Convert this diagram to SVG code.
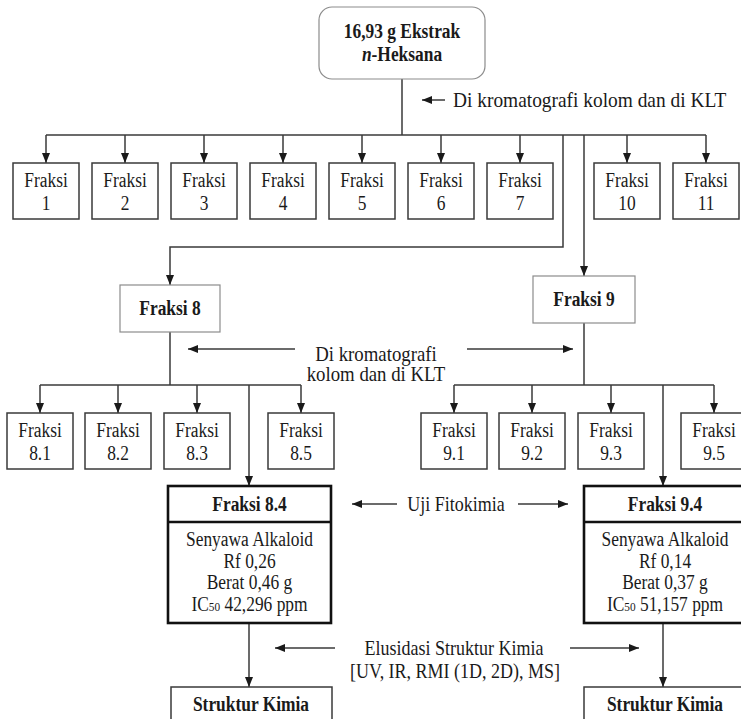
<svg xmlns="http://www.w3.org/2000/svg" width="741" height="719" viewBox="0 0 741 719">
<defs>
<marker id="ah" markerUnits="userSpaceOnUse" markerWidth="10" markerHeight="8" refX="10" refY="4" orient="auto">
<path d="M0,0 L10,4 L0,8 z" fill="#1a1a1a"/>
</marker>
<style>
text { font-family: "Liberation Serif", "Times New Roman", serif; font-size: 20px; fill: #1a1a1a; text-anchor: middle; }
.b { font-weight: bold; }
.lbl { text-anchor: start; }
.box { fill: #fff; stroke: #3a3a3a; stroke-width: 1.5; }
.lt { fill: #fff; stroke: #8c8c8c; stroke-width: 1.2; }
.thick { fill: #fff; stroke: #111; stroke-width: 2.6; }
.c { fill: none; stroke: #3a3a3a; stroke-width: 1.5; }
.a { marker-end: url(#ah); }
.sub { font-size: 13px; }
</style>
</defs>
<rect width="741" height="719" fill="#fff"/>

<g id="connectors">
<line class="c" x1="402" y1="79" x2="402" y2="135"/>
<line class="c" x1="46" y1="135" x2="706" y2="135"/>
<line class="c a" x1="46" y1="135" x2="46" y2="163"/>
<line class="c a" x1="125" y1="135" x2="125" y2="163"/>
<line class="c a" x1="204" y1="135" x2="204" y2="163"/>
<line class="c a" x1="283" y1="135" x2="283" y2="163"/>
<line class="c a" x1="362" y1="135" x2="362" y2="163"/>
<line class="c a" x1="441" y1="135" x2="441" y2="163"/>
<line class="c a" x1="520" y1="135" x2="520" y2="163"/>
<line class="c a" x1="627" y1="135" x2="627" y2="163"/>
<line class="c a" x1="706" y1="135" x2="706" y2="163"/>
<polyline class="c a" points="563,135 563,247 170,247 170,285"/>
<line class="c a" x1="584" y1="135" x2="584" y2="276"/>
<line class="c a" x1="445" y1="100" x2="422" y2="100"/>

<line class="c" x1="170" y1="332" x2="170" y2="385"/>
<line class="c" x1="40" y1="385" x2="301" y2="385"/>
<line class="c a" x1="40" y1="385" x2="40" y2="413"/>
<line class="c a" x1="118" y1="385" x2="118" y2="413"/>
<line class="c a" x1="197" y1="385" x2="197" y2="413"/>
<line class="c a" x1="301" y1="385" x2="301" y2="413"/>
<line class="c a" x1="249" y1="385" x2="249" y2="486"/>

<line class="c" x1="584" y1="323" x2="584" y2="385"/>
<line class="c" x1="454" y1="385" x2="714" y2="385"/>
<line class="c a" x1="454" y1="385" x2="454" y2="413"/>
<line class="c a" x1="532" y1="385" x2="532" y2="413"/>
<line class="c a" x1="611" y1="385" x2="611" y2="413"/>
<line class="c a" x1="714" y1="385" x2="714" y2="413"/>
<line class="c a" x1="663" y1="385" x2="663" y2="486"/>

<line class="c a" x1="295" y1="349" x2="188" y2="349"/>
<line class="c a" x1="467" y1="349" x2="573" y2="349"/>

<line class="c a" x1="397" y1="504" x2="352" y2="504"/>
<line class="c a" x1="518" y1="504" x2="568" y2="504"/>

<line class="c a" x1="249" y1="623" x2="249" y2="687"/>
<line class="c a" x1="663" y1="623" x2="663" y2="687"/>
<line class="c a" x1="335" y1="648" x2="275" y2="648"/>
<line class="c a" x1="570" y1="648" x2="639" y2="648"/>
</g>

<g id="labels">
<text class="lbl" transform="translate(453,107) scale(.97,1)">Di kromatografi kolom dan di KLT</text>
<text transform="translate(376,361) scale(.94,1)">Di kromatografi</text>
<text transform="translate(376,381) scale(.94,1)">kolom dan di KLT</text>
<text transform="translate(456,511) scale(.9,1)">Uji Fitokimia</text>
<text transform="translate(454,655) scale(.9,1)">Elusidasi Struktur Kimia</text>
<text transform="translate(455,678) scale(.9,1)">[UV, IR, RMI (1D, 2D), MS]</text>
</g>

<g id="n-ekstrak">
<rect class="lt" x="319" y="7" width="166" height="72" rx="13"/>
<text class="b" transform="translate(402,38) scale(.87,1)">16,93 g Ekstrak</text>
<text class="b" transform="translate(402,61) scale(.87,1)"><tspan font-style="italic">n</tspan>-Heksana</text>
</g>

<g id="f1"><rect class="box" x="13" y="163" width="66" height="56"/><text transform="translate(46,187) scale(.87,1)">Fraksi</text><text transform="translate(46,210) scale(.87,1)">1</text></g>
<g id="f2"><rect class="box" x="92" y="163" width="66" height="56"/><text transform="translate(125,187) scale(.87,1)">Fraksi</text><text transform="translate(125,210) scale(.87,1)">2</text></g>
<g id="f3"><rect class="box" x="171" y="163" width="66" height="56"/><text transform="translate(204,187) scale(.87,1)">Fraksi</text><text transform="translate(204,210) scale(.87,1)">3</text></g>
<g id="f4"><rect class="box" x="250" y="163" width="66" height="56"/><text transform="translate(283,187) scale(.87,1)">Fraksi</text><text transform="translate(283,210) scale(.87,1)">4</text></g>
<g id="f5"><rect class="box" x="329" y="163" width="66" height="56"/><text transform="translate(362,187) scale(.87,1)">Fraksi</text><text transform="translate(362,210) scale(.87,1)">5</text></g>
<g id="f6"><rect class="box" x="408" y="163" width="66" height="56"/><text transform="translate(441,187) scale(.87,1)">Fraksi</text><text transform="translate(441,210) scale(.87,1)">6</text></g>
<g id="f7"><rect class="box" x="487" y="163" width="66" height="56"/><text transform="translate(520,187) scale(.87,1)">Fraksi</text><text transform="translate(520,210) scale(.87,1)">7</text></g>
<g id="f10"><rect class="box" x="594" y="163" width="66" height="56"/><text transform="translate(627,187) scale(.87,1)">Fraksi</text><text transform="translate(627,210) scale(.87,1)">10</text></g>
<g id="f11"><rect class="box" x="673" y="163" width="66" height="56"/><text transform="translate(706,187) scale(.87,1)">Fraksi</text><text transform="translate(706,210) scale(.87,1)">11</text></g>

<g id="f8"><rect class="lt" x="120" y="285" width="100" height="47"/><text class="b" transform="translate(170,315) scale(.87,1)">Fraksi 8</text></g>
<g id="f9"><rect class="lt" x="533" y="276" width="102" height="47"/><text class="b" transform="translate(584,306) scale(.87,1)">Fraksi 9</text></g>

<g id="f81"><rect class="box" x="7" y="413" width="66" height="56"/><text transform="translate(40,437) scale(.87,1)">Fraksi</text><text transform="translate(40,460) scale(.87,1)">8.1</text></g>
<g id="f82"><rect class="box" x="85" y="413" width="66" height="56"/><text transform="translate(118,437) scale(.87,1)">Fraksi</text><text transform="translate(118,460) scale(.87,1)">8.2</text></g>
<g id="f83"><rect class="box" x="164" y="413" width="66" height="56"/><text transform="translate(197,437) scale(.87,1)">Fraksi</text><text transform="translate(197,460) scale(.87,1)">8.3</text></g>
<g id="f85"><rect class="box" x="268" y="413" width="66" height="56"/><text transform="translate(301,437) scale(.87,1)">Fraksi</text><text transform="translate(301,460) scale(.87,1)">8.5</text></g>

<g id="f91"><rect class="box" x="421" y="413" width="66" height="56"/><text transform="translate(454,437) scale(.87,1)">Fraksi</text><text transform="translate(454,460) scale(.87,1)">9.1</text></g>
<g id="f92"><rect class="box" x="499" y="413" width="66" height="56"/><text transform="translate(532,437) scale(.87,1)">Fraksi</text><text transform="translate(532,460) scale(.87,1)">9.2</text></g>
<g id="f93"><rect class="box" x="578" y="413" width="66" height="56"/><text transform="translate(611,437) scale(.87,1)">Fraksi</text><text transform="translate(611,460) scale(.87,1)">9.3</text></g>
<g id="f95"><rect class="box" x="681" y="413" width="66" height="56"/><text transform="translate(714,437) scale(.87,1)">Fraksi</text><text transform="translate(714,460) scale(.87,1)">9.5</text></g>

<g id="f84">
<rect class="thick" x="168" y="486" width="163" height="137"/>
<line x1="168" y1="522" x2="331" y2="522" stroke="#111" stroke-width="2.6"/>
<text class="b" transform="translate(249.5,511) scale(.87,1)">Fraksi 8.4</text>
<text transform="translate(249.5,546) scale(.87,1)">Senyawa Alkaloid</text>
<text transform="translate(249.5,568) scale(.87,1)">Rf 0,26</text>
<text transform="translate(249.5,589) scale(.87,1)">Berat 0,46 g</text>
<text transform="translate(249.5,611) scale(.87,1)">IC<tspan class="sub">50</tspan> 42,296 ppm</text>
</g>

<g id="f94">
<rect class="thick" x="584" y="486" width="163" height="137"/>
<line x1="584" y1="522" x2="747" y2="522" stroke="#111" stroke-width="2.6"/>
<text class="b" transform="translate(665,511) scale(.87,1)">Fraksi 9.4</text>
<text transform="translate(665,546) scale(.87,1)">Senyawa Alkaloid</text>
<text transform="translate(665,568) scale(.87,1)">Rf 0,14</text>
<text transform="translate(665,589) scale(.87,1)">Berat 0,37 g</text>
<text transform="translate(665,611) scale(.87,1)">IC<tspan class="sub">50</tspan> 51,157 ppm</text>
</g>

<g id="sk8"><rect class="box" x="171" y="687" width="161" height="45"/><text class="b" transform="translate(251,711) scale(.87,1)">Struktur Kimia</text></g>
<g id="sk9"><rect class="box" x="584" y="687" width="161" height="45"/><text class="b" transform="translate(665,711) scale(.87,1)">Struktur Kimia</text></g>
</svg>
